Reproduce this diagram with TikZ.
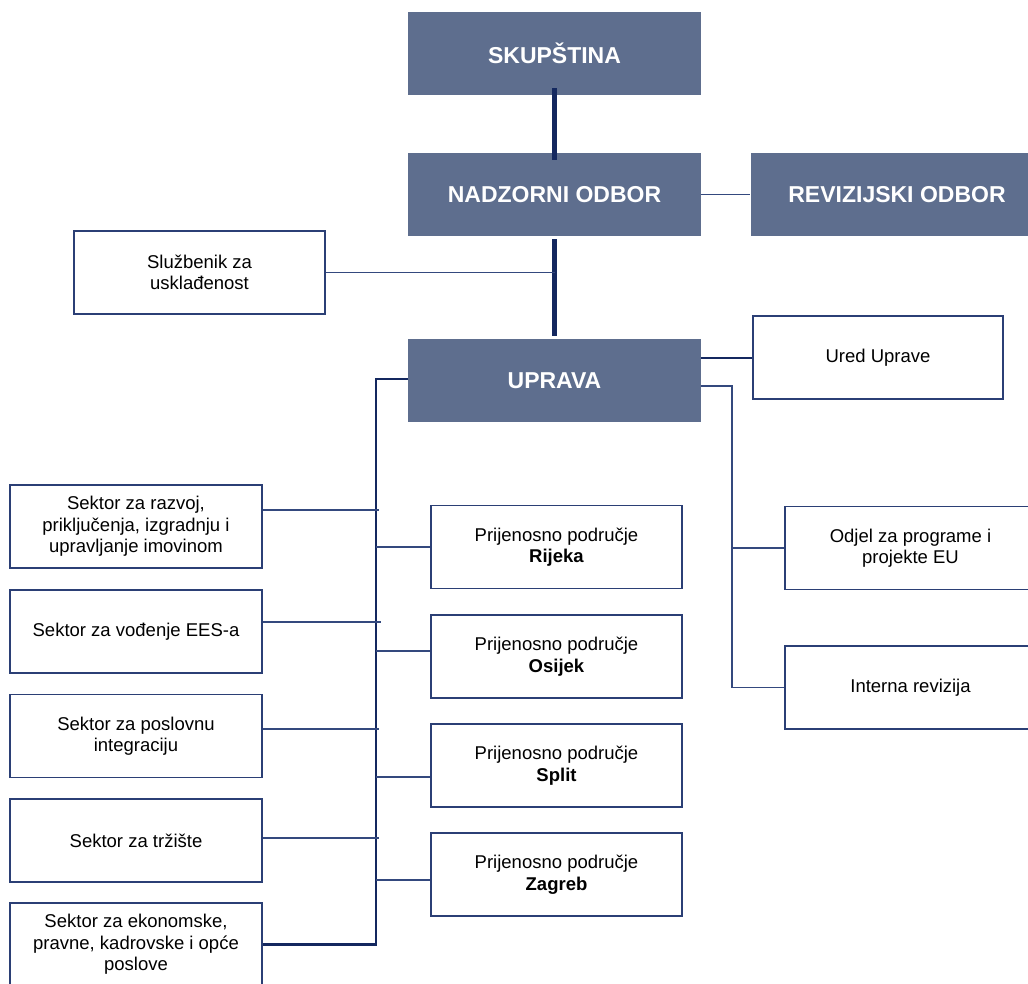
\documentclass[tikz,border=0pt]{standalone}
\usepackage{fontspec}
\setmainfont{Liberation Sans}
\definecolor{hdrfill}{HTML}{5E6E8E}
\definecolor{navy}{HTML}{14285F}
\definecolor{boxline}{HTML}{2B3F75}
\definecolor{thinline}{HTML}{34497E}
\tikzset{
  hdr/.style={fill=hdrfill, text=white, font=\bfseries\fontsize{23}{27}\selectfont,
    minimum width=293pt, minimum height=83pt, inner sep=0pt, draw=none},
  wbox/.style={draw=boxline, line width=1.3pt, fill=white,
    font=\fontsize{18.5}{21.5}\selectfont, align=center,
    minimum width=251pt, minimum height=83pt, inner sep=0pt},
  heavy/.style={draw=navy, line width=5pt},
  bus/.style={draw=navy, line width=2.5pt},
  mid/.style={draw=navy, line width=2pt},
  thin/.style={draw=thinline, line width=1.4pt},
}
\begin{document}
\begin{tikzpicture}[x=1pt,y=-1pt]
\clip (0,0) rectangle (1028,983);
\fill[white] (0,0) rectangle (1028,983);
% header boxes
\node[hdr] (skup) at (554.5,53.5) {SKUPŠTINA};
\node[hdr] (nadz) at (554.5,194.5) {NADZORNI ODBOR};
\node[hdr] (rev) at (897,194.5) {REVIZIJSKI ODBOR};
\node[hdr] (uprava) at (554.5,380.5) {UPRAVA};
% white boxes
\node[wbox] (slu) at (199.5,272.5) {Službenik za\\ usklađenost};
\node[wbox, minimum width=250pt] (ured) at (878,357.5) {Ured Uprave};
\node[wbox] (odjel) at (910.5,548) {Odjel za programe i\\ projekte EU};
\node[wbox] (interna) at (910.5,687.5) {Interna revizija};
\node[wbox, minimum width=252pt] (s1) at (136,526.5) {Sektor za razvoj,\\ priključenja, izgradnju i\\ upravljanje imovinom};
\node[wbox, minimum width=252pt] (s2) at (136,631.5) {Sektor za vođenje EES-a};
\node[wbox, minimum width=252pt] (s3) at (136,736) {Sektor za poslovnu\\ integraciju};
\node[wbox, minimum width=252pt] (s4) at (136,840.5) {Sektor za tržište};
\node[wbox, minimum width=252pt] (s5) at (136,944.5) {Sektor za ekonomske,\\ pravne, kadrovske i opće\\ poslove};
\node[wbox] (p1) at (556.5,547) {Prijenosno područje\\ \textbf{Rijeka}};
\node[wbox] (p2) at (556.5,656.5) {Prijenosno područje\\ \textbf{Osijek}};
\node[wbox] (p3) at (556.5,765.5) {Prijenosno područje\\ \textbf{Split}};
\node[wbox] (p4) at (556.5,874.5) {Prijenosno područje\\ \textbf{Zagreb}};
% coordinates of junctions
\coordinate (lb) at (376,379);
\coordinate (rb) at (732,386);
% vertical spine
\draw[heavy] ([yshift=7pt]skup.south) -- ([yshift=-7pt]nadz.north);
\draw[heavy] ([yshift=-3pt]nadz.south) -- ([yshift=3pt]uprava.north);
\draw[thin] (nadz.east) -- (rev.west);
\draw[thin] (slu.east) -- (slu.east -| nadz.south);
% Ured Uprave
\draw[mid] (uprava.east |- ured.west) -- (ured.west);
% right branch
\draw[thin] (uprava.east |- rb) -- (rb) -- (rb |- interna.west) -- (interna.west);
\draw[thin] (rb |- odjel.west) -- (odjel.west);
% left bus
\draw[bus] (uprava.west |- lb) -- (lb) -- (lb |- s5.east) -- (s5.east);
\draw[thin] ([yshift=16.5pt]s1.east) -- ++(116,0);
\draw[thin] ([yshift=9.5pt]s2.east) -- ++(118,0);
\draw[thin] ([yshift=7pt]s3.east) -- ++(116,0);
\draw[thin] ([yshift=2.5pt]s4.east) -- ++(116,0);
\draw[thin] (p1.west) -- ++(-54,0);
\draw[thin] ([yshift=5.5pt]p2.west) -- ++(-54,0);
\draw[thin] ([yshift=-11.5pt]p3.west) -- ++(-54,0);
\draw[thin] ([yshift=-5.5pt]p4.west) -- ++(-54,0);
\end{tikzpicture}
\end{document}
